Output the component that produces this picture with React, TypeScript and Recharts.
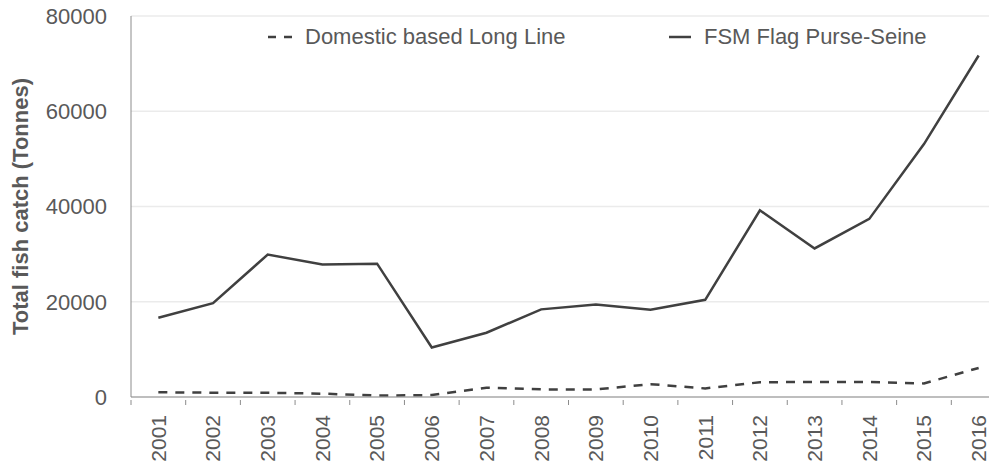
import React from "react";
import { LineChart, Line, XAxis, YAxis, CartesianGrid } from "recharts";

const years = ["2001", "2002", "2003", "2004", "2005", "2006", "2007", "2008", "2009", "2010", "2011", "2012", "2013", "2014", "2015", "2016"];
const longLine = [1000, 900, 900, 700, 300, 400, 1950, 1600, 1600, 2700, 1800, 3100, 3150, 3150, 2850, 6100];
const purseSeine = [16650, 19700, 29900, 27800, 28000, 10400, 13500, 18400, 19400, 18300, 20400, 39200, 31200, 37400, 53100, 71700];
const yTicks = [0, 20000, 40000, 60000, 80000];

const data = years.map((year, i) => ({ year, longLine: longLine[i], purseSeine: purseSeine[i] }));

const TEXT = "#595959";
const LINE = "#404040";
const FONT = "'Liberation Sans', Arial, sans-serif";

function YearTick(props: any) {
  const { x, y, payload } = props;
  const off = payload?.offset ?? 0;
  return (
    <g>
      <line x1={x - off} y1={y - 5} x2={x - off} y2={y} stroke="#8c8c8c" strokeWidth={1} />
      <text
        x={x}
        y={y + 10}
        transform={`rotate(-90, ${x}, ${y + 10})`}
        textAnchor="end"
        dy="0.35em"
        fill={TEXT}
        fontSize={21}
        fontFamily={FONT}
      >
        {payload.value}
      </text>
    </g>
  );
}

function TopLegend() {
  return (
    <div style={{ position: "absolute", left: 0, top: 24, width: 989, height: 30, fontFamily: FONT, fontSize: 22, color: TEXT }}>
      <svg width={26} height={10} style={{ position: "absolute", left: 268, top: 8 }}>
        <line x1={0} y1={5} x2={26} y2={5} stroke={LINE} strokeWidth={2.5} strokeDasharray="8 8" />
      </svg>
      <span style={{ position: "absolute", left: 305, top: 0, lineHeight: "26px", whiteSpace: "nowrap" }}>Domestic based Long Line</span>
      <svg width={22} height={10} style={{ position: "absolute", left: 669, top: 8 }}>
        <line x1={0} y1={5} x2={22} y2={5} stroke={LINE} strokeWidth={2.5} />
      </svg>
      <span style={{ position: "absolute", left: 704, top: 0, lineHeight: "26px", whiteSpace: "nowrap" }}>FSM Flag Purse-Seine</span>
    </div>
  );
}

export default function App() {
  return (
    <div style={{ position: "absolute", left: 0, top: 0, width: 989, height: 463, overflow: "hidden", background: "#fff" }}>
      <LineChart width={1006} height={463} data={data} margin={{ top: 16, right: 0, bottom: 0, left: 0 }}>
        <CartesianGrid vertical={false} stroke="#ebebeb" strokeWidth={1.5} />
        <XAxis
          dataKey="year"
          scale="band"
          height={66}
          axisLine={{ stroke: "#8c8c8c" }}
          tickLine={false}
          tick={<YearTick />}
          interval={0}
        />
        <YAxis
          width={131}
          domain={[0, 80000]}
          ticks={yTicks}
          axisLine={{ stroke: "#8c8c8c" }}
          tickLine={false}
          tickMargin={18}
          tick={{ fill: TEXT, fontSize: 22, fontFamily: FONT }}
          label={{
            value: "Total fish catch (Tonnes)",
            angle: -90,
            position: "insideLeft",
            offset: 20,
            style: { textAnchor: "middle", fill: TEXT, fontSize: 22, fontWeight: "bold", fontFamily: FONT },
          }}
        />
        <Line
          dataKey="longLine"
          name="Domestic based Long Line"
          stroke={LINE}
          strokeWidth={2.5}
          strokeDasharray="9 8"
          dot={false}
          isAnimationActive={false}
        />
        <Line
          dataKey="purseSeine"
          name="FSM Flag Purse-Seine"
          stroke={LINE}
          strokeWidth={2.5}
          dot={false}
          isAnimationActive={false}
        />
      </LineChart>
      <TopLegend />
    </div>
  );
}
